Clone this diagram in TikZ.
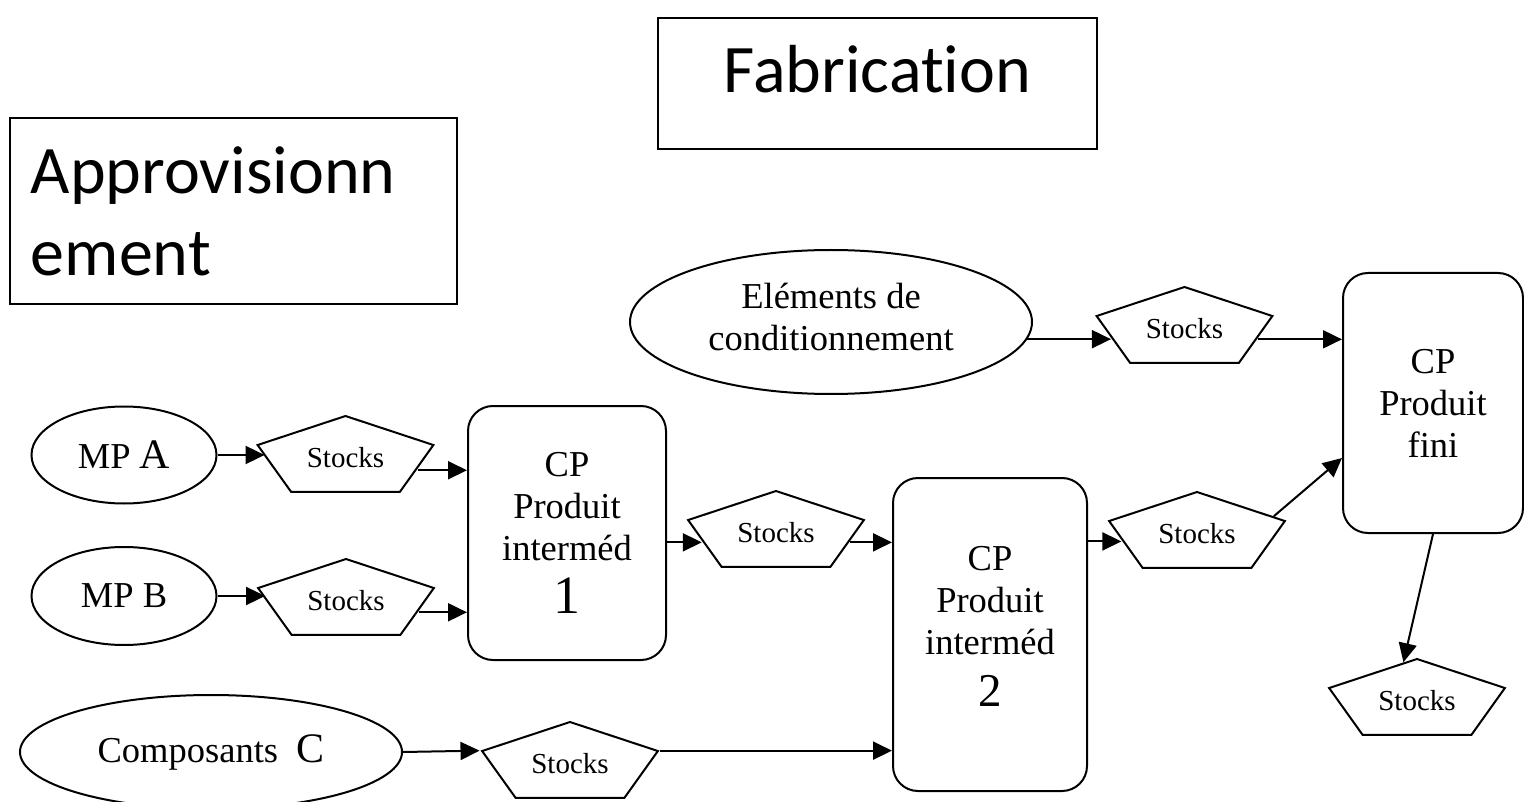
\documentclass[tikz,border=0pt]{standalone}
\usepackage{fontspec}
\usepackage{graphicx}
\setmainfont{Liberation Serif}
\newfontfamily\calib[Ligatures={NoCommon,NoDiscretionary,NoContextual}]{Carlito}
\usetikzlibrary{shapes.geometric, arrows.meta, calc}
\newcommand\stk{\scalebox{0.4545}[1]{Stocks}}
\begin{document}
\begin{tikzpicture}[x=1pt, y=-1pt, line width=2pt,
  arr/.style={-{Triangle[length=19pt,width=18pt]}, line width=2pt},
  ell/.style={draw, ellipse, inner sep=0pt, align=center, font=\fontsize{36.5}{42}\selectfont},
  cpbox/.style={draw, rectangle, rounded corners=25pt, inner sep=0pt, align=center, font=\fontsize{36.5}{42}\selectfont},
  stock/.style={draw, regular polygon, regular polygon sides=5, minimum size=84pt, inner sep=0pt, xscale=2.2, font=\fontsize{29}{34}\selectfont},
  titlebox/.style={draw, line width=1.8pt, inner sep=0pt, font=\calib\fontsize{68}{82}\selectfont}]
\useasboundingbox (0,0) rectangle (1524,802);

% titles
\node[titlebox, anchor=base, minimum width=439pt, text height=75pt, text depth=56pt] (fab) at (877.5,93) {Fabrication};
\node[titlebox, anchor=north west, text width=405pt, inner xsep=21pt, minimum height=186pt, align=left] (appro) at (9,117) {Approvisionn\\ement};

% ellipses
\node[ell, minimum width=185pt, minimum height=97pt] (mpa) at (124,455) {MP {\fontsize{42}{42}\selectfont A}};
\node[ell, minimum width=185pt, minimum height=98pt] (mpb) at (124,596) {MP B};
\node[ell, minimum width=382pt, minimum height=114pt] (compc) at (211,752) {Composants\ \ {\fontsize{42}{42}\selectfont C}};
\node[ell, minimum width=402pt, minimum height=144pt] (elem) at (831,322) {Eléments de\\conditionnement\rule[-10pt]{0pt}{10pt}};

% process boxes
\node[cpbox, minimum width=198pt, minimum height=254pt] (cp1) at (567,533) {CP\\Produit\\interméd\\[11pt]{\fontsize{54}{54}\selectfont 1}};
\node[cpbox, minimum width=194pt, minimum height=313pt] (cp2) at (990,634.5) {CP\\Produit\\interméd\\[10pt]{\fontsize{47}{47}\selectfont 2}\rule[-16pt]{0pt}{16pt}};
\node[cpbox, minimum width=180pt, minimum height=260pt] (cpf) at (1433,403) {CP\\Produit\\fini};

% stocks
\node[stock] (sa) at (345.5,458) {\stk};
\node[stock] (sb) at (346,601) {\stk};
\node[stock] (s1) at (776,533) {\stk};
\node[stock] (s2) at (1197,534) {\stk};
\node[stock] (sc) at (570,764) {\stk};
\node[stock] (scond) at (1184.5,329) {\stk};
\node[stock] (sfin) at (1417,701) {\stk};

% helper points on pentagon borders
\coordinate (saR) at ($(sa.corner 5)!0.53!(sa.corner 4)$);
\coordinate (sbR) at ($(sb.corner 5)!0.51!(sb.corner 4)$);
\coordinate (s1L) at ($(s1.corner 2)!0.47!(s1.corner 3)$);
\coordinate (s1R) at ($(s1.corner 5)!0.47!(s1.corner 4)$);
\coordinate (s2L) at ($(s2.corner 2)!0.43!(s2.corner 3)$);
\coordinate (s2T) at ($(s2.corner 1)!0.85!(s2.corner 5)$);
\coordinate (scL) at ($(scond.corner 2)!0.49!(scond.corner 3)$);
\coordinate (scR) at ($(scond.corner 5)!0.49!(scond.corner 4)$);
\coordinate (sfT) at ($(sfin.corner 1)!0.15!(sfin.corner 2)$);
\coordinate (cpfL) at ($(cpf.north west)!0.71!(cpf.south west)$);
\coordinate (eo) at (elem.-5.3);

% connectors
\draw[arr] (mpa.east) -- (mpa.east -| sa.west);
\draw[arr] (mpb.east) -- (mpb.east -| sb.west);
\draw[arr] (saR) -- (saR -| cp1.west);
\draw[arr] (sbR) -- (sbR -| cp1.west);
\draw[arr] (cp1.east |- s1L) -- (s1L);
\draw[arr] (s1R) -- (s1R -| cp2.west);
\draw[arr] (cp2.east |- s2L) -- (s2L);
\draw[arr] (compc.east) -- (sc.corner 2);
\draw[arr] (sc.corner 5) -- (sc.corner 5 -| cp2.west);
\draw[arr] (eo) -- (eo -| scL);
\draw[arr] (scR) -- (scR -| cpf.west);
\draw[arr] (s2T) -- (cpfL);
\draw[arr] (cpf.south) -- (sfT);
\end{tikzpicture}
\end{document}
